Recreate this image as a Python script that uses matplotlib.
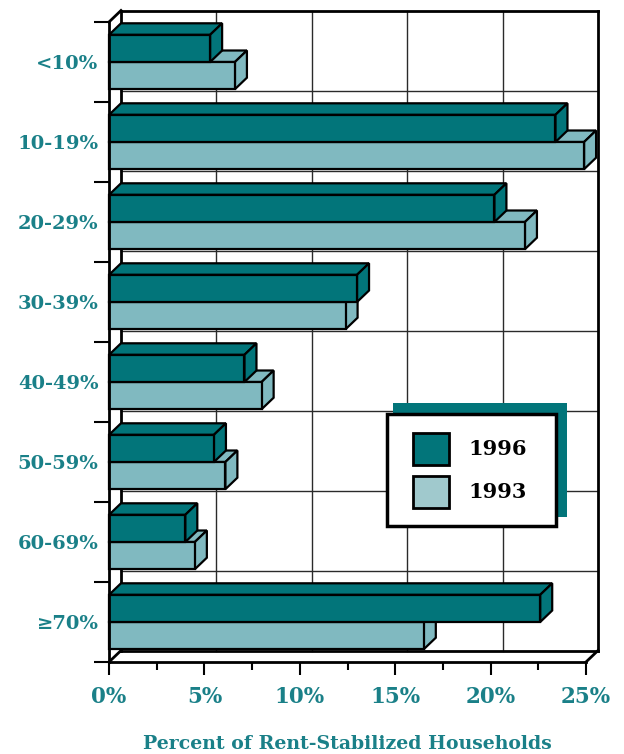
import numpy as np
import matplotlib
matplotlib.use("Agg")
import matplotlib.pyplot as plt
from matplotlib.patches import Polygon, Rectangle, Patch
from matplotlib.legend_handler import HandlerPatch
from matplotlib.ticker import MultipleLocator, FixedLocator, NullFormatter

# ---- data ----------------------------------------------------------
categories = ['<10%', '10-19%', '20-29%', '30-39%', '40-49%', '50-59%', '60-69%', '\u226570%']
pct_1996 = [5.3, 23.4, 20.2, 13.0, 7.1, 5.5, 4.0, 22.6]
pct_1993 = [6.6, 24.9, 21.8, 12.4, 8.0, 6.1, 4.5, 16.5]
series_names = ['1996', '1993']
x_ticks = [0, 5, 10, 15, 20, 25]
x_tick_labels = ['0%', '5%', '10%', '15%', '20%', '25%']
x_label = 'Percent of Rent-Stabilized Households'

# ---- style ---------------------------------------------------------
DARK = '#02757A'
LIGHT = '#80B9C0'
LIGHT_KEY = '#A0C9CD'
TEXT = '#1A8088'
SERIF = ['DejaVu Serif']

W, H = 624, 754
fig = plt.figure(figsize=(W / 100, H / 100), dpi=100)
# front plane of the "3d" box, in pixels
left, right, top, bottom = 109, 586, 22, 662
ax = fig.add_axes([left / W, 1 - bottom / H, (right - left) / W, (bottom - top) / H])

n = len(categories)
ax.set_xlim(0, 25)
ax.set_ylim(n - 0.5, -0.5)

# depth offset (12 px right, 11.5 px up) in data units
dx = 12 / ((right - left) / 25)
dy = 11.5 / ((bottom - top) / n)
bar_h = 0.34

y_lo, y_hi = -0.5, n - 0.5

# back wall + grid
ax.add_patch(Rectangle((dx, y_lo - dy), 25, n, facecolor='white', edgecolor='none',
                       clip_on=False, zorder=0))
for xv in x_ticks[1:-1]:
    ax.plot([xv + dx, xv + dx], [y_lo - dy, y_hi - dy], color='#2a2a2a', lw=1.0,
            clip_on=False, zorder=1)
for k in range(1, n):
    yb = k - 0.5 - dy
    ax.plot([dx, 25 + dx], [yb, yb], color='#2a2a2a', lw=1.0, clip_on=False, zorder=1)

# box edges
edge = dict(color='black', lw=2.0, clip_on=False, zorder=2, solid_capstyle='projecting')
ax.plot([dx, 25 + dx], [y_lo - dy, y_lo - dy], **edge)            # back top
ax.plot([25 + dx, 25 + dx], [y_lo - dy, y_hi - dy], **edge)       # back right
ax.plot([dx, dx], [y_lo - dy, y_hi - dy], **edge)                 # back left
ax.plot([0, dx], [y_lo, y_lo - dy], **edge)                       # left top diag
ax.plot([dx, 25 + dx], [y_hi - dy, y_hi - dy], **edge)            # floor back
ax.plot([0, dx], [y_hi, y_hi - dy], **edge)                       # floor left diag
ax.plot([25, 25 + dx], [y_hi, y_hi - dy], **edge)                 # floor right diag


def bar3d(v, t, b, color):
    kw = dict(facecolor=color, edgecolor='black', lw=1.6, joinstyle='miter',
              clip_on=False, zorder=3)
    ax.add_patch(Polygon([(0, t), (v, t), (v + dx, t - dy), (dx, t - dy)], **kw))
    ax.add_patch(Polygon([(v, t), (v + dx, t - dy), (v + dx, b - dy), (v, b)], **kw))
    ax.add_patch(Rectangle((0, t), v, b - t, **kw))


for i in range(n):
    bar3d(pct_1993[i], i, i + bar_h, LIGHT)
    bar3d(pct_1996[i], i - bar_h, i, DARK)

# axes spines / ticks
for s in ['top', 'right']:
    ax.spines[s].set_visible(False)
for s in ['left', 'bottom']:
    ax.spines[s].set_linewidth(2.0)
    ax.spines[s].set_zorder(4)
ax.patch.set_visible(False)

ax.xaxis.set_major_locator(FixedLocator(x_ticks))
ax.xaxis.set_minor_locator(MultipleLocator(2.5))
ax.set_xticklabels(x_tick_labels)
ax.tick_params(axis='x', which='major', direction='out', length=9, width=1.5, pad=8,
               labelsize=15.5, labelcolor=TEXT)
ax.tick_params(axis='x', which='minor', direction='out', length=6, width=1.5)

ax.yaxis.set_major_locator(FixedLocator(np.arange(n + 1) - 0.5))
ax.yaxis.set_major_formatter(NullFormatter())
ax.yaxis.set_minor_locator(FixedLocator(np.arange(n)))
ax.set_yticklabels(categories, minor=True)
ax.tick_params(axis='y', which='major', direction='out', length=11, width=1.5)
ax.tick_params(axis='y', which='minor', length=0, pad=7.5, labelsize=14, labelcolor=TEXT)

for lab in ax.get_xticklabels() + ax.get_yticklabels(minor=True):
    lab.set_family(SERIF)
    lab.set_fontweight('bold')

ax.set_xlabel(x_label, family=SERIF, fontweight='bold', fontsize=13.6, color=TEXT,
              labelpad=19.5)


# legend: keys sit a little right of the frame's padding, box has a teal shadow
def key_patch(legend, orig_handle, xdescent, ydescent, width, height, fontsize):
    f = 0.83
    return Rectangle((-xdescent + width * (1 - f), -ydescent), width * f, height)


handles = [Patch(facecolor=DARK, edgecolor='black', lw=2.0),
           Patch(facecolor=LIGHT_KEY, edgecolor='black', lw=2.0)]
leg = fig.legend(handles, series_names, loc='upper left', mode='expand',
                 bbox_to_anchor=(387 / W, 1 - 526 / H, 169 / W, 112 / H),
                 prop=dict(family=SERIF, weight='bold', size=15),
                 handler_map={Patch: HandlerPatch(patch_func=key_patch)},
                 frameon=True, fancybox=False, framealpha=1, edgecolor='black',
                 borderpad=0.89, handlelength=2.09, handleheight=1.99,
                 handletextpad=0.93, labelspacing=0.53, borderaxespad=0)
leg.get_frame().set_linewidth(2.5)
leg.set_zorder(10)

fig.canvas.draw()
bb = leg.get_window_extent().transformed(fig.transFigure.inverted())
fig.add_artist(Rectangle((bb.x0 + 6 / W, bb.y0 + 9 / H), bb.width + 5 / W, bb.height + 2 / H,
                         transform=fig.transFigure, facecolor=DARK, edgecolor='none',
                         zorder=9))

fig.savefig('out.png', dpi=100)
